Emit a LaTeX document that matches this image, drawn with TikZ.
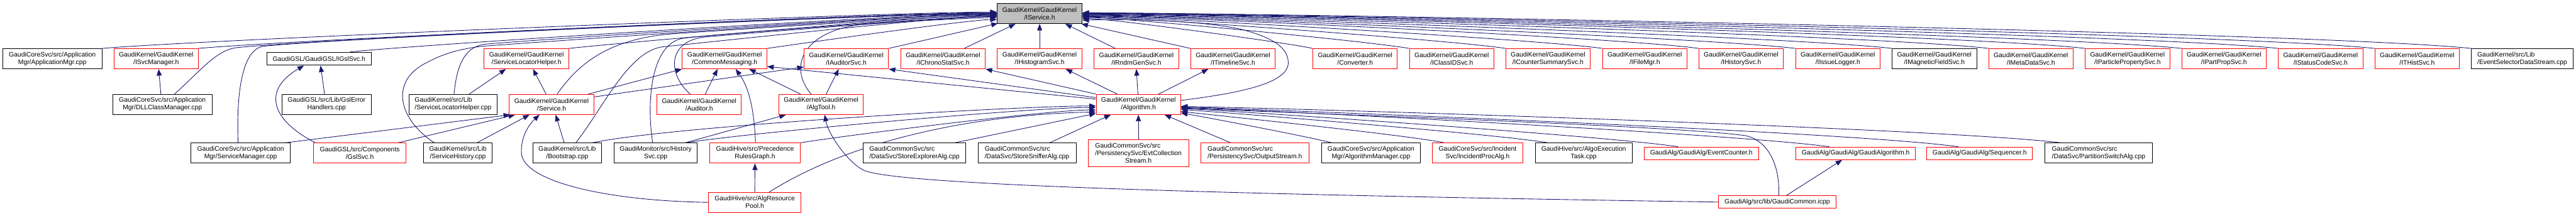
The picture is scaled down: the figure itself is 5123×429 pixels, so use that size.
\documentclass[tikz,border=0pt]{standalone}
\usepackage{fontspec}
\setmainfont{Liberation Sans}
\usetikzlibrary{arrows.meta,backgrounds}
\definecolor{edgeblue}{HTML}{191970}
\definecolor{rootgray}{HTML}{BFBFBF}
\begin{document}
\begin{tikzpicture}[x=1pt,y=-1pt,
  box/.style={draw, line width=1.2pt, fill=white, rectangle, inner sep=0pt, minimum height=40pt, minimum width=168pt, align=center, font=\fontsize{13}{15}\selectfont},
  rbox/.style={box, draw=red},
  bbox/.style={box, draw=black},
  edge/.style={draw=edgeblue, line width=1.1pt, -{Triangle[length=13pt,width=10pt]}}
]
\useasboundingbox (0,0) rectangle (5123,429);
% row 0
\node[box, fill=rootgray, draw=black, minimum width=169pt] (root) at (2067.5,27) {GaudiKernel/GaudiKernel\\/IService.h};
% row 1
\node[bbox, minimum width=198pt] (app) at (104,117) {GaudiCoreSvc/src/Application\\Mgr/ApplicationMgr.cpp};
\node[rbox, minimum width=167pt] (isvcmgr) at (310.5,117) {GaudiKernel/GaudiKernel\\/ISvcManager.h};
\node[bbox, minimum width=207pt, minimum height=26pt] (igsl) at (634.5,117) {GaudiGSL/GaudiGSL/IGslSvc.h};
\node[rbox] (slhh) at (1047,117) {GaudiKernel/GaudiKernel\\/ServiceLocatorHelper.h};
\node[rbox] (cmsg) at (1441,117) {GaudiKernel/GaudiKernel\\/CommonMessaging.h};
\node[rbox] (iaud) at (1683,117) {GaudiKernel/GaudiKernel\\/IAuditorSvc.h};
\node[rbox] (ichrono) at (1875.5,117) {GaudiKernel/GaudiKernel\\/IChronoStatSvc.h};
\node[rbox, minimum width=169pt] (ihisto) at (2067.5,117) {GaudiKernel/GaudiKernel\\/IHistogramSvc.h};
\node[rbox] (irndm) at (2260,117) {GaudiKernel/GaudiKernel\\/IRndmGenSvc.h};
\node[rbox] (itimeline) at (2452,117) {GaudiKernel/GaudiKernel\\/ITimelineSvc.h};
\node[rbox] (converter) at (2695,117) {GaudiKernel/GaudiKernel\\/Converter.h};
\node[rbox] (iclassid) at (2887,117) {GaudiKernel/GaudiKernel\\/IClassIDSvc.h};
\node[rbox] (icounter) at (3078.5,117) {GaudiKernel/GaudiKernel\\/ICounterSummarySvc.h};
\node[rbox] (ifilemgr) at (3271,117) {GaudiKernel/GaudiKernel\\/IFileMgr.h};
\node[rbox] (ihistory) at (3462.5,117) {GaudiKernel/GaudiKernel\\/IHistorySvc.h};
\node[rbox] (iissue) at (3655,117) {GaudiKernel/GaudiKernel\\/IIssueLogger.h};
\node[bbox] (imagnetic) at (3847,117) {GaudiKernel/GaudiKernel\\/IMagneticFieldSvc.h};
\node[rbox] (imeta) at (4039,117) {GaudiKernel/GaudiKernel\\/IMetaDataSvc.h};
\node[rbox] (iparticle) at (4231,117) {GaudiKernel/GaudiKernel\\/IParticlePropertySvc.h};
\node[rbox] (ipartprop) at (4423,117) {GaudiKernel/GaudiKernel\\/IPartPropSvc.h};
\node[rbox] (istatus) at (4615,117) {GaudiKernel/GaudiKernel\\/IStatusCodeSvc.h};
\node[rbox] (ithist) at (4807,117) {GaudiKernel/GaudiKernel\\/ITHistSvc.h};
\node[bbox, minimum width=202pt, align=left] (evtsel) at (5016,117) {GaudiKernel/src/Lib\\/EventSelectorDataStream.cpp};
% row 2
\node[bbox, minimum width=198pt] (dll) at (323,208) {GaudiCoreSvc/src/Application\\Mgr/DLLClassManager.cpp};
\node[bbox, minimum width=177pt] (gslerr) at (649.5,208) {GaudiGSL/src/Lib/GslError\\Handlers.cpp};
\node[bbox, minimum width=176pt, align=left] (slhcpp) at (901,208) {GaudiKernel/src/Lib\\/ServiceLocatorHelper.cpp};
\node[rbox] (service) at (1097,208) {GaudiKernel/GaudiKernel\\/Service.h};
\node[rbox] (auditor) at (1390.5,208) {GaudiKernel/GaudiKernel\\/Auditor.h};
\node[rbox] (algtool) at (1633,208) {GaudiKernel/GaudiKernel\\/AlgTool.h};
\node[rbox] (algorithm) at (2264,208) {GaudiKernel/GaudiKernel\\/Algorithm.h};
% row 3
\node[bbox, minimum width=197pt] (smgr) at (478.5,305) {GaudiCoreSvc/src/Application\\Mgr/ServiceManager.cpp};
\node[rbox, minimum width=183pt] (gslsvc) at (715.5,305) {GaudiGSL/src/Components\\/GslSvc.h};
\node[bbox, minimum width=137pt] (shist) at (910.5,305) {GaudiKernel/src/Lib\\/ServiceHistory.cpp};
\node[bbox, minimum width=136pt] (boot) at (1128,305) {GaudiKernel/src/Lib\\/Bootstrap.cpp};
\node[bbox, minimum width=166pt] (histsvc) at (1304,305) {GaudiMonitor/src/History\\Svc.cpp};
\node[rbox, minimum width=179pt] (prg) at (1501.5,305) {GaudiHive/src/Precedence\\RulesGraph.h};
\node[bbox, minimum width=205pt, align=left] (sexpl) at (1818.5,305) {GaudiCommonSvc/src\\/DataSvc/StoreExplorerAlg.cpp};
\node[bbox, minimum width=195pt, align=left] (ssniff) at (2042.5,305) {GaudiCommonSvc/src\\/DataSvc/StoreSnifferAlg.cpp};
\node[rbox, minimum width=200pt, minimum height=54pt] (evtcoll) at (2264,305) {\rlap{GaudiCommonSvc/src}\phantom{/PersistencySvc/EvtCollection}\\/PersistencySvc/EvtCollection\\Stream.h};
\node[rbox, minimum width=215pt, align=left] (ostream) at (2495.5,305) {GaudiCommonSvc/src\\/PersistencySvc/OutputStream.h};
\node[bbox, minimum width=197pt] (algmgr) at (2726.5,305) {GaudiCoreSvc/src/Application\\Mgr/AlgorithmManager.cpp};
\node[rbox, minimum width=179pt] (incproc) at (2938.5,305) {GaudiCoreSvc/src/Incident\\Svc/IncidentProcAlg.h};
\node[bbox, minimum width=193pt] (algoexec) at (3149.5,305) {GaudiHive/src/AlgoExecution\\Task.cpp};
\node[rbox, minimum width=227pt, minimum height=25pt] (evcount) at (3383.5,305.5) {GaudiAlg/GaudiAlg/EventCounter.h};
\node[rbox, minimum width=237pt, minimum height=25pt] (gaudialg) at (3690.5,305.5) {GaudiAlg/GaudiAlg/GaudiAlgorithm.h};
\node[rbox, minimum width=210pt, minimum height=25pt] (seq) at (3937,305.5) {GaudiAlg/GaudiAlg/Sequencer.h};
\node[bbox, minimum width=213pt, align=left] (pswitch) at (4173.5,305) {GaudiCommonSvc/src\\/DataSvc/PartitionSwitchAlg.cpp};
% row 4
\node[rbox, minimum width=184pt] (arp) at (1501,403) {GaudiHive/src/AlgResource\\Pool.h};
\node[rbox, minimum width=233pt, minimum height=25pt] (gcommon) at (3534.5,402.5) {GaudiAlg/src/lib/GaudiCommon.icpp};

\begin{pgfonlayer}{background}
% row 1 -> root, left side
\draw[edge] (app.north east) .. controls +(210,-18) and +(-210,0) .. ([yshift=3pt]root.west);
\draw[edge] (isvcmgr.north east) .. controls +(190,-17) and +(-190,0) .. ([yshift=2pt]root.west);
\draw[edge] ([xshift=62pt]igsl.north) .. controls +(155,-16) and +(-155,0) .. ([yshift=0pt]root.west);
\draw[edge] (slhh.north east) .. controls +(100,-11) and +(-100,0) .. ([yshift=-2pt]root.west);
\draw[edge] (cmsg.north east) .. controls +(55,-8) and +(-55,0) .. ([yshift=-12pt]root.west);
\draw[edge] (iaud.north east) -- ([xshift=2pt,yshift=1pt]root.south west);
\draw[edge] ([xshift=42pt]ichrono.north) -- ([xshift=37pt]root.south west);
\draw[edge] (ihisto.north) -- (root.south);
% row 1 -> root, right side
\draw[edge] ([xshift=-42pt]irndm.north) -- ([xshift=-34pt]root.south east);
\draw[edge] (itimeline.north west) -- ([xshift=-2pt]root.south east);
\draw[edge] (converter.north west) .. controls +(-55,-12) and +(55,0) .. ([yshift=-10pt]root.east);
\draw[edge] (iclassid.north west) .. controls +(-78,-14) and +(78,0) .. ([yshift=-8pt]root.east);
\draw[edge] (icounter.north west) .. controls +(-100,-16) and +(100,0) .. ([yshift=-7pt]root.east);
\draw[edge] (ifilemgr.north west) .. controls +(-125,-18) and +(125,0) .. ([yshift=-6pt]root.east);
\draw[edge] (ihistory.north west) .. controls +(-147,-21) and +(147,0) .. ([yshift=-5pt]root.east);
\draw[edge] (iissue.north west) .. controls +(-170,-21) and +(170,0) .. ([yshift=-4pt]root.east);
\draw[edge] (imagnetic.north west) .. controls +(-193,-23) and +(193,0) .. ([yshift=-3pt]root.east);
\draw[edge] (imeta.north west) .. controls +(-216,-26) and +(216,0) .. ([yshift=-2pt]root.east);
\draw[edge] (iparticle.north west) .. controls +(-240,-28) and +(240,0) .. ([yshift=-1pt]root.east);
\draw[edge] (ipartprop.north west) .. controls +(-262,-28) and +(262,0) .. ([yshift=0pt]root.east);
\draw[edge] (istatus.north west) .. controls +(-285,-30) and +(285,0) .. ([yshift=0.5pt]root.east);
\draw[edge] (ithist.north west) .. controls +(-308,-32) and +(308,0) .. ([yshift=1pt]root.east);
\draw[edge] (evtsel.north west) .. controls +(-330,-34) and +(330,0) .. ([yshift=1.5pt]root.east);
% lower rows -> root
\draw[edge] ([xshift=24pt]dll.north) .. controls (400,140) and (430,100) .. (470,95) .. controls +(180,-19) and +(-180,0) .. ([yshift=1pt]root.west);
\draw[edge] ([xshift=-5pt]smgr.north) .. controls (470,190) and (480,97) .. (525,92) .. controls +(175,-18) and +(-175,0) .. ([yshift=0pt]root.west);
\draw[edge] ([xshift=-47pt]shist.north) .. controls (790,235) and (775,160) .. (850,124) .. controls (880,108) and (910,98) .. (960,92) .. controls +(123,-9) and +(-123,0) .. ([yshift=-1pt]root.west);
\draw[edge] ([xshift=2pt]slhcpp.north) .. controls (908,130) and (925,92) .. (965,88) .. controls +(122,-11) and +(-122,0) .. ([yshift=-1pt]root.west);
\draw[edge] ([xshift=11pt]service.north) .. controls (1145,135) and (1200,80) .. (1330,68) .. controls +(80,-6) and +(-80,0) .. ([yshift=-3pt]root.west);
\draw[edge] ([xshift=17pt]boot.north) .. controls (1200,215) and (1250,100) .. (1320,93) .. controls +(80,-8) and +(-80,0) .. ([yshift=-4pt]root.west);
\draw[edge] ([xshift=-6pt]histsvc.north) .. controls (1285,200) and (1295,85) .. (1360,76) .. controls +(75,-9) and +(-75,0) .. ([yshift=-5pt]root.west);
\draw[edge] ([xshift=-18pt]auditor.north) .. controls (1325,145) and (1330,82) .. (1400,74) .. controls +(70,-7) and +(-70,0) .. ([yshift=-6pt]root.west);
\draw[edge] ([xshift=-20pt]algtool.north) .. controls (1565,130) and (1600,60) .. (1720,48) .. controls +(32,-3) and +(-32,0) .. ([yshift=-8pt]root.west);
% GSL
\draw[edge] ([xshift=-3pt]dll.north) -- ([xshift=5pt]isvcmgr.south);
\draw[edge] ([xshift=-4pt]gslerr.north) -- ([xshift=3pt]igsl.south);
\draw[edge] ([xshift=-88pt]gslsvc.north) .. controls (540,240) and (520,180) .. ([xshift=-30pt]igsl.south);
% service locator / service
\draw[edge] ([xshift=32pt]slhcpp.north) -- ([xshift=-41pt]slhh.south);
\draw[edge] ([xshift=-11pt]service.north) -- ([xshift=13pt]slhh.south);
\draw[edge] ([xshift=73pt]service.north) -- (cmsg.south west);
\draw[edge] ([yshift=15pt]service.east) -- ([yshift=4pt]iaud.south west);
\draw[edge] ([xshift=89pt]smgr.north) -- ([xshift=2pt]service.south west);
\draw[edge] ([xshift=76pt]gslsvc.north) -- ([xshift=12pt]service.south west);
\draw[edge] ([xshift=38pt]shist.north) -- ([xshift=-44pt]service.south);
\draw[edge] ([xshift=-6pt]boot.north) -- ([xshift=8pt]service.south);
\draw[edge] (arp.west) .. controls (1200,400) and (1040,360) .. (1037,305) .. controls (1035,270) and (1055,245) .. ([xshift=-24pt]service.south);
% -> algorithm from the left
\draw[edge] ([xshift=50pt]boot.north) .. controls +(154,-33) and +(-157,0) .. ([yshift=-3pt]algorithm.west);
\draw[edge] ([xshift=59pt]histsvc.north) .. controls +(126,-20) and +(-128,0) .. ([yshift=-6pt]algorithm.west);
\draw[edge] ([xshift=59pt]histsvc.north) -- ([xshift=-70pt]algtool.south);
\draw[edge] (prg.north east) .. controls +(92,-15) and +(-93,0) .. ([yshift=-11pt]algorithm.west);
\draw[edge] ([xshift=29pt]arp.north) .. controls (1700,275) and (1950,228) .. ([yshift=-15pt]algorithm.west);
\draw[edge] ([xshift=80pt]sexpl.north) -- ([yshift=-18pt]algorithm.west);
\draw[edge] ([xshift=45pt]ssniff.north) -- ([xshift=-55pt]algorithm.south);
\draw[edge] (evtcoll.north) -- (algorithm.south);
\draw[edge] ([xshift=-48pt]ostream.north) -- ([xshift=52pt]algorithm.south);
% -> algorithm from the right
\draw[edge] ([xshift=-78pt]algmgr.north) .. controls +(-46,-12) and +(47,8) .. ([yshift=-17pt]algorithm.east);
\draw[edge] ([xshift=-66pt]incproc.north) .. controls +(-70,-15) and +(72,8) .. ([yshift=-14pt]algorithm.east);
\draw[edge] ([xshift=-71pt]algoexec.north) .. controls +(-98,-17) and +(100,7) .. ([yshift=-10pt]algorithm.east);
\draw[edge] ([xshift=-46pt]evcount.north) .. controls +(-134,-21) and +(136,7) .. ([yshift=-8pt]algorithm.east);
\draw[edge] ([xshift=-52pt]gaudialg.north) .. controls +(-175,-25) and +(177,6) .. ([yshift=-6pt]algorithm.east);
\draw[edge] ([xshift=-42pt]seq.north) .. controls +(-210,-30) and +(212,7) .. ([yshift=-5pt]algorithm.east);
\draw[edge] ([xshift=-75pt]pswitch.north) .. controls +(-238,-29) and +(240,4) .. ([yshift=-4pt]algorithm.east);
\draw[edge] ([xshift=3pt]gcommon.north) .. controls (3540,320) and (3510,277) .. (3470,270) .. controls +(-152,-21) and +(154,8) .. ([yshift=-7pt]algorithm.east);
% GaudiCommon
\draw[edge] ([xshift=18pt]gcommon.north) -- ([xshift=-27pt]gaudialg.south);
\draw[edge] (gcommon.west) .. controls (2600,390) and (1800,372) .. (1720,340) .. controls (1690,328) and (1648,270) .. ([xshift=7pt]algtool.south);
% hive
\draw[edge] (arp.north) -- (prg.south);
\draw[edge] ([xshift=1pt]prg.north) .. controls (1500,220) and (1490,175) .. ([xshift=22pt]cmsg.south);
% auditor / algtool
\draw[edge] ([xshift=12pt]auditor.north) -- ([xshift=-14pt]cmsg.south);
\draw[edge] ([xshift=-41pt]algtool.north) -- ([xshift=49pt]cmsg.south);
\draw[edge] ([xshift=10pt]algtool.north) -- ([xshift=-15pt]iaud.south);
% algorithm upward
\draw[edge] (algorithm.north west) -- (ichrono.south east);
\draw[edge] ([yshift=-7pt]algorithm.north west) -- (iaud.south east);
\draw[edge] ([yshift=-10pt]algorithm.north west) -- ([yshift=5pt]cmsg.south east);
\draw[edge] ([xshift=-42pt]algorithm.north) -- ([xshift=52pt]ihisto.south);
\draw[edge] ([xshift=-1pt]algorithm.north) -- (irndm.south);
\draw[edge] ([xshift=40pt]algorithm.north) -- ([xshift=-49pt]itimeline.south);
\draw[edge] ([yshift=8pt]algorithm.east) .. controls (2470,185) and (2562,165) .. (2562,125) .. controls (2562,90) and (2520,72) .. (2467,58) .. controls (2380,40) and (2250,38) .. ([yshift=-13pt]root.east);
\end{pgfonlayer}
\end{tikzpicture}
\end{document}
